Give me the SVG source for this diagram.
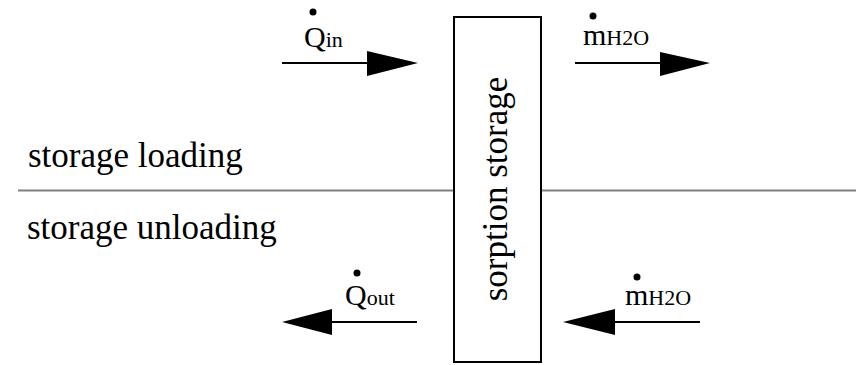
<svg xmlns="http://www.w3.org/2000/svg" width="856" height="365" viewBox="0 0 856 365">
<defs>
<polygon id="ahR" points="0,-12 51,0 0,13" fill="#000"/>
</defs>
<rect width="856" height="365" fill="#fff"/>
<g id="divider">
<line x1="18" y1="190.5" x2="856" y2="190.5" stroke="#808080" stroke-width="2"/>
</g>
<g id="label-loading"><text font-family="Liberation Serif" font-size="35" x="28" y="167">storage loading</text></g>
<g id="label-unloading"><text font-family="Liberation Serif" font-size="35" x="27" y="239">storage unloading</text></g>
<g id="sorption-storage">
<rect x="454" y="17" width="87" height="345" fill="#fff" stroke="#000" stroke-width="2"/>
<text font-family="Liberation Serif" font-size="35" transform="translate(507,189) rotate(-90)" text-anchor="middle">sorption storage</text>
</g>
<g id="connectors" stroke="#000" stroke-width="2">
<g id="q-in">
<line x1="282" y1="63" x2="368" y2="63"/>
<polygon points="367,51 418,63 367,76" fill="#000" stroke="none"/>
</g>
<g id="m-out">
<line x1="575" y1="63" x2="661" y2="63"/>
<polygon points="660,52 710,63 660,76" fill="#000" stroke="none"/>
</g>
<g id="q-out">
<line x1="331" y1="322" x2="417" y2="322"/>
<polygon points="332,309 282,322 332,335" fill="#000" stroke="none"/>
</g>
<g id="m-in">
<line x1="614" y1="322" x2="700" y2="322"/>
<polygon points="615,309 563,322 615,335" fill="#000" stroke="none"/>
</g>
</g>
<g id="label-qin">
<circle cx="313" cy="12" r="3.5" fill="#000"/>
<text font-family="Liberation Serif" x="304" y="47"><tspan font-size="30">Q</tspan><tspan font-size="22">in</tspan></text>
</g>
<g id="label-mh2o-top">
<circle cx="593" cy="16" r="3.5" fill="#000"/>
<text font-family="Liberation Serif" x="583" y="45"><tspan font-size="30">m</tspan><tspan font-size="22">H2O</tspan></text>
</g>
<g id="label-qout">
<circle cx="357" cy="273" r="3.5" fill="#000"/>
<text font-family="Liberation Serif" x="345" y="305"><tspan font-size="30">Q</tspan><tspan font-size="22">out</tspan></text>
</g>
<g id="label-mh2o-bottom">
<circle cx="637" cy="277" r="3.5" fill="#000"/>
<text font-family="Liberation Serif" x="625" y="305"><tspan font-size="30">m</tspan><tspan font-size="22">H2O</tspan></text>
</g>
</svg>
